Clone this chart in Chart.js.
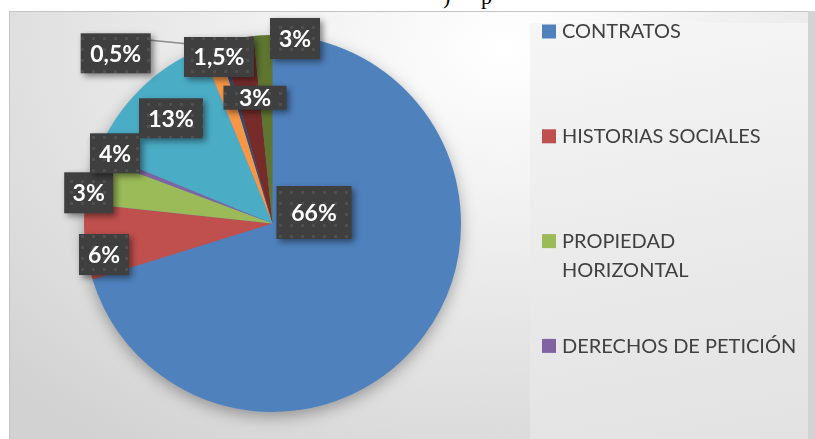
<!DOCTYPE html>
<html>
<head>
<meta charset="utf-8">
<script src="https://cdn.jsdelivr.net/npm/chart.js@4"></script>
<style>
  html, body { margin: 0; padding: 0; background: #fff; }
  #page { position: relative; width: 815px; height: 439px; overflow: hidden; }
  #frame {
    position: absolute; left: 9px; top: 11px; width: 798px; height: 440px;
    border: 1px solid #c4c4c4;
    background: radial-gradient(ellipse 85% 110% at 62% 8%, #ffffff 0%, #f0f0f0 35%, #dcdcdc 80%, #d2d2d2 100%);
  }
  #strip { position: absolute; left: 808px; top: 11px; width: 7px; height: 428px; background: #d3d3d3; }
  #legendBox {
    position: absolute; left: 530px; top: 23px; width: 278px; height: 420px;
    background: linear-gradient(170deg, #f6f6f6 0%, #ebebeb 50%, #e2e2e2 100%);
  }
  .frag { position: absolute; top: -14px; font: 22px "Liberation Serif", serif; color: #000; line-height: 22px; }
  #wrap { position: absolute; left: 0; top: 0; width: 815px; height: 439px; }
</style>
</head>
<body>
<div id="page">
  <span class="frag" style="left:443px">)</span>
  <span class="frag" style="left:481px">p</span>
  <div id="frame"></div>
  <div id="strip"></div>
  <div id="legendBox"></div>
  <div id="wrap"><canvas id="tipos"></canvas></div>
</div>
<script>
// categorias (solo las 4 primeras se leen en la leyenda)
const categories = ['CONTRATOS', 'HISTORIAS SOCIALES', 'PROPIEDAD HORIZONTAL', 'DERECHOS DE PETICIÓN', '', '', '', '', ''];
// tamaño de cada porción (%)
const shares = [70.2, 6.5, 4.0, 0.5, 12.6, 1.5, 0.35, 2.75, 1.6];
// texto de las etiquetas tal como aparece
const pctLabels = ['66%', '6%', '3%', '4%', '13%', '0,5%', '1,5%', '3%', '3%'];

const colors = ['#4f81bd', '#c0504d', '#9bbb59', '#8064a2', '#4bacc6', '#f79646', '#2c4d75', '#772c2a', '#5f7530'];
// posicion de las cajas respecto al centro: dx, dy, ancho, alto
const boxes = [
  [41.5, -11, 75, 53], [-168.5, 31, 50, 41], [-183.8, -30.7, 49, 41], [-157.5, -70.2, 50, 40],
  [-101.5, -105.2, 64, 40], [-156.8, -170.2, 70, 40], [-53.5, -166.5, 70, 40], [-17.5, -125.8, 63, 24],
  [22.5, -185, 50, 41]
];

const dots = document.createElement('canvas');
dots.width = 11; dots.height = 11;
const dctx = dots.getContext('2d');
dctx.fillStyle = '#3f3f3f';
dctx.fillRect(0, 0, 11, 11);
dctx.fillStyle = '#4f4f4f';
dctx.fillRect(4, 4, 3, 3);

const pieShadow = {
  id: 'pieShadow',
  beforeDatasetsDraw(chart) {
    const arc = chart.getDatasetMeta(0).data[0];
    const {x, y, outerRadius} = arc.getProps(['x', 'y', 'outerRadius'], true);
    const ctx = chart.ctx;
    ctx.save();
    ctx.shadowColor = 'rgba(0,0,0,0.35)';
    ctx.shadowBlur = 16;
    ctx.shadowOffsetY = 5;
    ctx.fillStyle = colors[0];
    ctx.beginPath();
    ctx.arc(x, y, outerRadius - 1, 0, Math.PI * 2);
    ctx.fill();
    ctx.restore();
  }
};

const boxLabels = {
  id: 'boxLabels',
  afterDatasetsDraw(chart) {
    const ctx = chart.ctx;
    const arcs = chart.getDatasetMeta(0).data;
    const c = arcs[0].getProps(['x', 'y'], true);
    // linea guia de 0,5%
    const a = arcs[5].getProps(['startAngle', 'endAngle', 'outerRadius'], true);
    const mid = (a.startAngle + a.endAngle) / 2;
    const b5 = boxes[5];
    ctx.save();
    ctx.strokeStyle = '#8c8c8c';
    ctx.lineWidth = 1.5;
    ctx.beginPath();
    ctx.moveTo(c.x + b5[0] + b5[2] / 2, c.y + b5[1] - b5[3] / 2 + 7);
    ctx.lineTo(c.x + Math.cos(mid) * a.outerRadius, c.y + Math.sin(mid) * a.outerRadius);
    ctx.stroke();
    ctx.restore();

    const pat = ctx.createPattern(dots, 'repeat');
    arcs.forEach((arc, i) => {
      const [dx, dy, w, h] = boxes[i];
      const bx = c.x + dx - w / 2, by = c.y + dy - h / 2;
      ctx.save();
      ctx.shadowColor = 'rgba(0,0,0,0.45)';
      ctx.shadowBlur = 6;
      ctx.shadowOffsetX = 3;
      ctx.shadowOffsetY = 3;
      ctx.fillStyle = pat;
      ctx.fillRect(bx, by, w, h);
      ctx.restore();
      ctx.save();
      ctx.fillStyle = '#ffffff';
      ctx.font = 'bold 23px Lato';
      ctx.textAlign = 'center';
      ctx.textBaseline = 'middle';
      ctx.fillText(pctLabels[i], c.x + dx, c.y + dy + 1);
      ctx.restore();
    });
  }
};

const sideLegend = {
  id: 'sideLegend',
  afterDraw(chart) {
    const ctx = chart.ctx;
    ctx.save();
    ctx.font = '20px Lato';
    ctx.textBaseline = 'middle';
    let n = 0;
    categories.forEach((name, i) => {
      if (!name) return;
      const y0 = 31 + n * 104.8;
      ctx.fillStyle = colors[i];
      ctx.fillRect(542, y0 - 6.5, 14, 14);
      // partir en lineas si no cabe
      const words = name.split(' ');
      const lines = [];
      let cur = '';
      words.forEach(w => {
        const t = cur ? cur + ' ' + w : w;
        if (ctx.measureText(t).width > 240 && cur) { lines.push(cur); cur = w; } else cur = t;
      });
      lines.push(cur);
      ctx.fillStyle = '#404040';
      lines.forEach((ln, k) => ctx.fillText(ln, 562, y0 + 1 + k * 28.5));
      n++;
    });
    ctx.restore();
  }
};

new Chart(document.getElementById('tipos').getContext('2d'), {
  type: 'pie',
  data: {
    labels: categories,
    datasets: [{
      data: shares,
      backgroundColor: colors,
      borderWidth: 0
    }]
  },
  options: {
    responsive: true,
    maintainAspectRatio: false,
    animation: false,
    layout: { padding: { left: 84, right: 354, top: 35, bottom: 27 } },
    plugins: {
      legend: { display: false },
      tooltip: { enabled: false }
    }
  },
  plugins: [pieShadow, boxLabels, sideLegend]
});
</script>
</body>
</html>
